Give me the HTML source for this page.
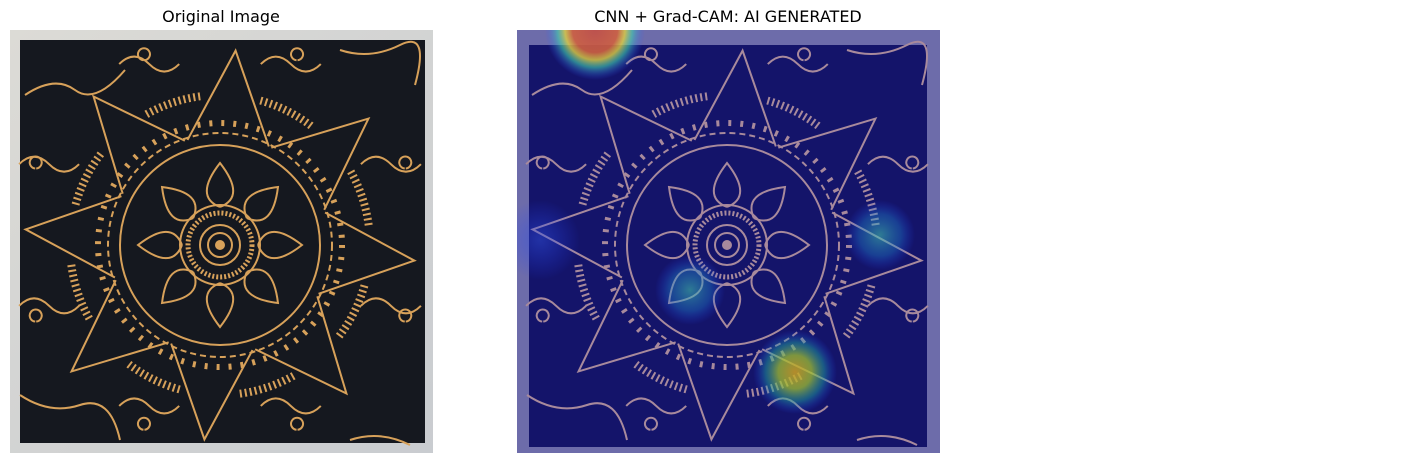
<!DOCTYPE html>
<html><head><meta charset="utf-8"><style>
body{margin:0;background:#fff;width:1415px;height:465px;overflow:hidden;font-family:"DejaVu Sans","Liberation Sans",sans-serif}
.t{position:absolute;top:7px;font-size:16px;color:#000;white-space:nowrap;transform:translateX(-50%)}
</style></head><body>
<div class="t" style="left:221px">Original Image</div>
<div class="t" style="left:728px">CNN + Grad-CAM: AI GENERATED</div>
<svg id="s" width="1415" height="465" style="position:absolute;left:0;top:0">
<defs>
<linearGradient id="wall" x1="0" y1="0" x2="1" y2="1"><stop offset="0" stop-color="#dcdbd6"/><stop offset="1" stop-color="#c9ccd0"/></linearGradient>
<clipPath id="c"><rect x="517" y="30" width="423" height="423"/></clipPath>
<g id="mandala">
  <path id="star" fill="none"/>
  <circle r="100" fill="none"/>
  <circle r="112" fill="none" stroke-dasharray="6 4"/>
  <circle r="122" fill="none" stroke-dasharray="3 9" stroke-width="6"/>
  <path id="petals" fill="none"/>
  <circle r="40" fill="none"/><circle r="32" fill="none" stroke-dasharray="2 2" stroke-width="5"/>
  <circle r="20" fill="none"/><circle r="12" fill="none"/><circle r="4"/>
  <path id="vines" fill="none"/>
  <path id="fans" fill="none" stroke-dasharray="2 3" stroke-width="8"/>
</g>
</defs>
<g>
  <rect x="10" y="30" width="423" height="423" fill="url(#wall)"/>
  <rect x="20" y="40" width="405" height="403" fill="#15181f"/>
  <use href="#mandala" transform="translate(220,245)" stroke="#d7a15a" fill="#d7a15a" stroke-width="2"/>
</g>
<g>
  <rect x="517" y="30" width="423" height="423" fill="#6d6caa"/>
  <rect x="529" y="45" width="398" height="402" fill="#14146a"/>
  <use href="#mandala" transform="translate(727,245)" stroke="#a88a9c" fill="#a88a9c" stroke-width="2"/>
  <g id="heat" clip-path="url(#c)"></g>
</g>
</svg>
<script>
const spotX=[595,880,795,690,540];
const spotY=[30,235,372,290,240];
const spotR=[50,35,42,35,40];
const spotPeak=[1.0,0.55,0.75,0.45,0.25];
const ns="http://www.w3.org/2000/svg";
let d="";
for(let i=0;i<8;i++){const a=i*Math.PI/4-Math.PI/2+0.08;const r1=195,r0=110;
const p=[Math.cos(a)*r1,Math.sin(a)*r1];const l=[Math.cos(a-0.38)*r0,Math.sin(a-0.38)*r0];const rr=[Math.cos(a+0.38)*r0,Math.sin(a+0.38)*r0];
d+=`M${l[0]},${l[1]}L${p[0]},${p[1]}L${rr[0]},${rr[1]}`;}
document.getElementById('star').setAttribute('d',d);
let pd="";
for(let i=0;i<8;i++){const a=i*Math.PI/4;const tip=[Math.cos(a)*82,Math.sin(a)*82];
const c1=[Math.cos(a-0.5)*55,Math.sin(a-0.5)*55],c2=[Math.cos(a+0.5)*55,Math.sin(a+0.5)*55];
const b=[Math.cos(a)*38,Math.sin(a)*38];
pd+=`M${b[0]},${b[1]}Q${c1[0]},${c1[1]} ${tip[0]},${tip[1]}Q${c2[0]},${c2[1]} ${b[0]},${b[1]}`;}
document.getElementById('petals').setAttribute('d',pd);
let fd="";
for(let i=0;i<8;i++){const a=i*Math.PI/4-Math.PI/2+0.08+Math.PI/8;const r=150;
const x1=Math.cos(a-0.2)*r,y1=Math.sin(a-0.2)*r,x2=Math.cos(a+0.2)*r,y2=Math.sin(a+0.2)*r;
fd+=`M${x1},${y1}A${r},${r} 0 0 1 ${x2},${y2}`;}
document.getElementById('fans').setAttribute('d',fd);
let vd="";
for(let i=0;i<8;i++){const a=i*Math.PI/4+Math.PI/8-Math.PI/2;const r=185;
const x=Math.cos(a)*r,y=Math.sin(a)*r;
vd+=`M${x-30},${y-10}q15,-15 30,0 t30,0 M${Math.cos(a)*200},${Math.sin(a)*200} a6,6 0 1 1 1,0`;}
vd+="M-195,-150q30,-20 50,-5t50,-20M120,-195q30,10 60,-5t15,40M-200,150q30,20 60,10t40,35M130,195q30,-10 60,5";
document.getElementById('vines').setAttribute('d',vd);
const heat=document.getElementById('heat');
const defs=document.querySelector('defs');
for(let i=0;i<spotX.length;i++){
 const g=document.createElementNS(ns,'radialGradient');g.id='hg'+i;
 const pk=spotPeak[i];
 const stops=pk>0.9?[[0,'#c0504a',0.95],[0.45,'#d06040',0.9],[0.6,'#e0d040',0.8],[0.75,'#40d0b0',0.6],[1,'#3050ff',0]]
  : pk>0.6?[[0,'#d0a020',0.85],[0.4,'#a0c030',0.75],[0.7,'#20a0a0',0.5],[1,'#2040ff',0]]
  : pk>0.4?[[0,'#40c0b0',0.6],[0.6,'#2080d0',0.4],[1,'#2040ff',0]]
  :[[0,'#3050e0',0.5],[1,'#2040ff',0]];
 stops.forEach(s=>{const st=document.createElementNS(ns,'stop');st.setAttribute('offset',s[0]);st.setAttribute('stop-color',s[1]);st.setAttribute('stop-opacity',s[2]);g.appendChild(st);});
 defs.appendChild(g);
 const c=document.createElementNS(ns,'circle');
 
 
 c.setAttribute('cx',spotX[i]);c.setAttribute('cy',spotY[i]);c.setAttribute('r',spotR[i]);
 c.setAttribute('fill','url(#hg'+i+')');
 heat.appendChild(c);
}
</script>
</body></html>
